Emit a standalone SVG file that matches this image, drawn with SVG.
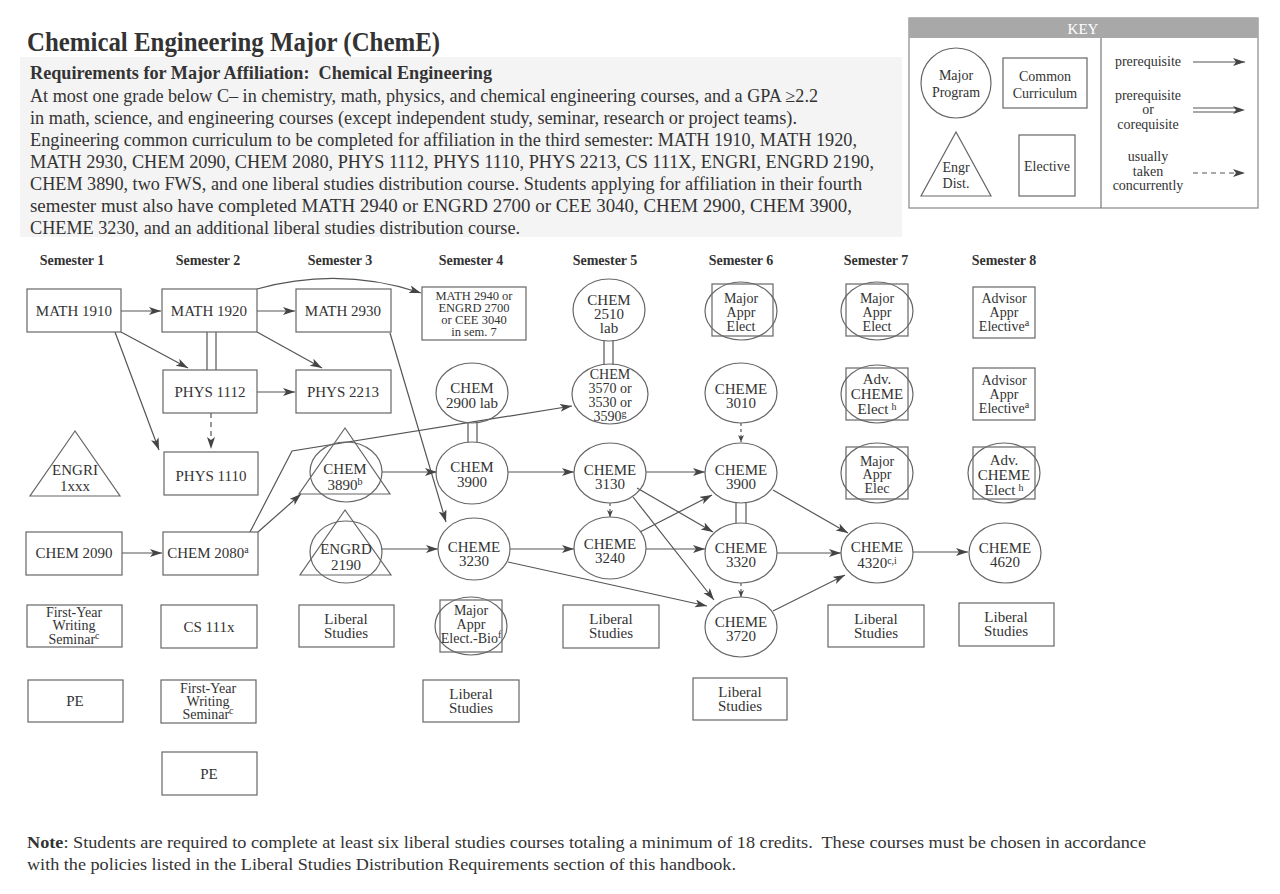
<svg xmlns="http://www.w3.org/2000/svg" width="1280" height="894" viewBox="0 0 1280 894">
<defs>
<marker id="arr" markerUnits="userSpaceOnUse" markerWidth="13" markerHeight="9" refX="12" refY="4" orient="auto">
<path d="M0,0 L12,4 L0,8 L3,4 z" fill="#444"/>
</marker>
<marker id="arrs" markerUnits="userSpaceOnUse" markerWidth="8" markerHeight="6" refX="7" refY="3" orient="auto">
<path d="M0,0 L7,3 L0,6 L2,3 z" fill="#444"/>
</marker>
<style>
text{font-family:"Liberation Serif","Times New Roman",serif;fill:#333}
.n{font-size:15px;text-anchor:middle}
.s{font-size:14px;text-anchor:middle}
.t{font-size:12.5px;text-anchor:middle}
.sup{font-size:10px}
.box{fill:#fff;stroke:#666;stroke-width:1.2}
.ov{fill:none;stroke:#666;stroke-width:1.2}
.c line,.c path,.c polyline{stroke:#555;stroke-width:1.2;fill:none}
.a{marker-end:url(#arr)}
.d{stroke-dasharray:5,4}
.sem{font-size:14px;font-weight:bold;text-anchor:middle}
.body{font-size:18px}
</style>
</defs>
<rect width="1280" height="894" fill="#fff"/>

<!-- Header -->
<g id="header">
<text x="27" y="51" font-size="28" font-weight="bold" textLength="413" lengthAdjust="spacingAndGlyphs">Chemical Engineering Major (ChemE)</text>
<rect x="20" y="57" width="882" height="180" fill="#f4f4f4"/>
<text x="30" y="79" font-size="19" font-weight="bold" textLength="462" lengthAdjust="spacingAndGlyphs" xml:space="preserve">Requirements for Major Affiliation:  Chemical Engineering</text>
<text class="body" x="30" y="102" textLength="788" lengthAdjust="spacingAndGlyphs">At most one grade below C– in chemistry, math, physics, and chemical engineering courses, and a GPA ≥2.2</text>
<text class="body" x="30" y="124" textLength="767" lengthAdjust="spacingAndGlyphs">in math, science, and engineering courses (except independent study, seminar, research or project teams).</text>
<text class="body" x="30" y="146" textLength="827" lengthAdjust="spacingAndGlyphs">Engineering common curriculum to be completed for affiliation in the third semester: MATH 1910, MATH 1920,</text>
<text class="body" x="30" y="168" textLength="844" lengthAdjust="spacingAndGlyphs">MATH 2930, CHEM 2090, CHEM 2080, PHYS 1112, PHYS 1110, PHYS 2213, CS 111X, ENGRI, ENGRD 2190,</text>
<text class="body" x="30" y="190" textLength="832" lengthAdjust="spacingAndGlyphs">CHEM 3890, two FWS, and one liberal studies distribution course. Students applying for affiliation in their fourth</text>
<text class="body" x="30" y="212" textLength="822" lengthAdjust="spacingAndGlyphs">semester must also have completed MATH 2940 or ENGRD 2700 or CEE 3040, CHEM 2900, CHEM 3900,</text>
<text class="body" x="30" y="234" textLength="490" lengthAdjust="spacingAndGlyphs">CHEME 3230, and an additional liberal studies distribution course.</text>
</g>

<!-- Key -->
<g id="key">
<rect x="909" y="18" width="349" height="190" fill="#fff" stroke="#888" stroke-width="1.2"/>
<rect x="909" y="18" width="349" height="20" fill="#a8a8a8"/>
<text x="1083" y="34" font-size="15" text-anchor="middle" style="fill:#fff">KEY</text>
<line x1="1101" y1="38" x2="1101" y2="208" stroke="#777" stroke-width="1.2"/>
<circle cx="956" cy="83" r="35" class="ov"/>
<text class="s" x="956" y="80">Major</text><text class="s" x="956" y="97">Program</text>
<rect x="1003" y="58" width="84" height="50" class="box"/>
<text class="s" x="1045" y="81">Common</text><text class="s" x="1045" y="98">Curriculum</text>
<polygon points="956,132 921,196 991,196" class="ov"/>
<text class="s" x="956" y="172">Engr</text><text class="s" x="956" y="188">Dist.</text>
<rect x="1019" y="135" width="56" height="61" class="box"/>
<text class="s" x="1047" y="171">Elective</text>
<text class="s" x="1148" y="66">prerequisite</text>
<text class="s" x="1148" y="100">prerequisite</text><text class="s" x="1148" y="114">or</text><text class="s" x="1148" y="129">corequisite</text>
<text class="s" x="1148" y="161">usually</text><text class="s" x="1148" y="176">taken</text><text class="s" x="1148" y="190">concurrently</text>
<g class="c">
<line x1="1193" y1="62" x2="1245" y2="62" class="a"/>
<line x1="1193" y1="108" x2="1236" y2="108"/>
<line x1="1193" y1="112" x2="1236" y2="112"/>
<line x1="1230" y1="110" x2="1245" y2="110" class="a" style="stroke:none"/>
<line x1="1193" y1="173" x2="1245" y2="173" class="a d"/>
</g>
</g>

<!-- Semester labels -->
<g id="semesters">
<text class="sem" x="72" y="265">Semester 1</text>
<text class="sem" x="208" y="265">Semester 2</text>
<text class="sem" x="340" y="265">Semester 3</text>
<text class="sem" x="471" y="265">Semester 4</text>
<text class="sem" x="605" y="265">Semester 5</text>
<text class="sem" x="741" y="265">Semester 6</text>
<text class="sem" x="876" y="265">Semester 7</text>
<text class="sem" x="1004" y="265">Semester 8</text>
</g>

<!-- Connectors -->
<g id="connectors" class="c">
<line x1="121" y1="311" x2="161" y2="311" class="a"/>
<line x1="257" y1="311" x2="295" y2="311" class="a"/>
<path d="M257,289 Q340,266 421,293" class="a"/>
<line x1="121" y1="332" x2="188" y2="368" class="a"/>
<line x1="115" y1="332" x2="159" y2="450" class="a"/>
<line x1="257" y1="332" x2="322" y2="368" class="a"/>
<line x1="207" y1="332" x2="207" y2="370"/>
<line x1="216" y1="332" x2="216" y2="370"/>
<line x1="257" y1="392" x2="295" y2="392" class="a"/>
<line x1="211" y1="413" x2="211" y2="449" class="a d"/>
<line x1="390" y1="333" x2="446" y2="522" class="a"/>
<polyline points="250,532 292,451 572,406" class="a"/>
<line x1="258" y1="532" x2="301" y2="494" class="a"/>
<line x1="382" y1="472" x2="437" y2="472" class="a"/>
<line x1="122" y1="553" x2="162" y2="553" class="a"/>
<line x1="382" y1="549" x2="438" y2="549" class="a"/>
<line x1="468" y1="423" x2="468" y2="442"/>
<line x1="477" y1="423" x2="477" y2="442"/>
<line x1="604" y1="340" x2="604" y2="365"/>
<line x1="613" y1="340" x2="613" y2="365"/>
<line x1="508" y1="472" x2="574" y2="472" class="a"/>
<line x1="510" y1="549" x2="574" y2="549" class="a"/>
<line x1="508" y1="562" x2="707" y2="606" class="a"/>
<line x1="610" y1="503" x2="610" y2="517" style="marker-end:url(#arrs);stroke-dasharray:3,3"/>
<line x1="646" y1="472" x2="705" y2="472" class="a"/>
<line x1="637" y1="488" x2="713" y2="532" class="a"/>
<line x1="633" y1="497" x2="714" y2="600" class="a"/>
<line x1="640" y1="532" x2="712" y2="495" class="a"/>
<line x1="646" y1="549" x2="705" y2="549" class="a"/>
<line x1="741" y1="423" x2="741" y2="442" style="marker-end:url(#arrs);stroke-dasharray:3,3"/>
<line x1="736" y1="503" x2="736" y2="523"/>
<line x1="746" y1="503" x2="746" y2="523"/>
<line x1="741" y1="583" x2="741" y2="597" style="marker-end:url(#arrs);stroke-dasharray:3,3"/>
<line x1="773" y1="490" x2="848" y2="533" class="a"/>
<line x1="777" y1="553" x2="841" y2="553" class="a"/>
<line x1="773" y1="611" x2="845" y2="575" class="a"/>
<line x1="913" y1="552" x2="968" y2="552" class="a"/>
</g>

<!-- Semester 1 -->
<g id="math1910"><rect x="27" y="289" width="94" height="43" class="box"/><text class="n" x="74" y="316">MATH 1910</text></g>
<g id="engri"><polygon points="75,431 30,496 120,496" class="ov"/><text class="n" x="75" y="475">ENGRI</text><text class="n" x="75" y="491">1xxx</text></g>
<g id="chem2090"><rect x="26" y="532" width="96" height="43" class="box"/><text class="n" x="74" y="558">CHEM 2090</text></g>
<g id="fws1"><rect x="27" y="605" width="95" height="42" class="box"/><text class="s" x="74" y="617">First-Year</text><text class="s" x="74" y="630">Writing</text><text class="s" x="74" y="644">Seminar<tspan class="sup" dy="-5">c</tspan></text></g>
<g id="pe1"><rect x="28" y="680" width="95" height="42" class="box"/><text class="n" x="75" y="706">PE</text></g>

<!-- Semester 2 -->
<g id="math1920"><rect x="162" y="289" width="95" height="43" class="box"/><text class="n" x="209" y="316">MATH 1920</text></g>
<g id="phys1112"><rect x="163" y="370" width="94" height="43" class="box"/><text class="n" x="210" y="397">PHYS 1112</text></g>
<g id="phys1110"><rect x="164" y="452" width="94" height="43" class="box"/><text class="n" x="211" y="481">PHYS 1110</text></g>
<g id="chem2080"><rect x="163" y="532" width="95" height="43" class="box"/><text class="n" x="208" y="558">CHEM 2080<tspan class="sup" dy="-5">a</tspan></text></g>
<g id="cs111x"><rect x="161" y="605" width="96" height="43" class="box"/><text class="n" x="209" y="632">CS 111x</text></g>
<g id="fws2"><rect x="161" y="680" width="95" height="43" class="box"/><text class="s" x="208" y="693">First-Year</text><text class="s" x="208" y="706">Writing</text><text class="s" x="208" y="719">Seminar<tspan class="sup" dy="-5">c</tspan></text></g>
<g id="pe2"><rect x="162" y="752" width="95" height="43" class="box"/><text class="n" x="209" y="779">PE</text></g>

<!-- Semester 3 -->
<g id="math2930"><rect x="296" y="289" width="95" height="43" class="box"/><text class="n" x="343" y="316">MATH 2930</text></g>
<g id="phys2213"><rect x="296" y="370" width="95" height="43" class="box"/><text class="n" x="343" y="397">PHYS 2213</text></g>
<g id="chem3890"><polygon points="345,428 299,494 390,494" class="ov"/><ellipse cx="346" cy="472" rx="36" ry="30" class="ov"/><text class="n" x="345" y="474">CHEM</text><text class="n" x="345" y="490">3890<tspan class="sup" dy="-5">b</tspan></text></g>
<g id="engrd2190"><polygon points="345,510 300,575 391,575" class="ov"/><ellipse cx="346" cy="552" rx="36" ry="31" class="ov"/><text class="n" x="346" y="554">ENGRD</text><text class="n" x="346" y="570">2190</text></g>
<g id="libstud3"><rect x="299" y="605" width="95" height="42" class="box"/><text class="n" x="346" y="624">Liberal</text><text class="n" x="346" y="638">Studies</text></g>

<!-- Semester 4 -->
<g id="math2940"><rect x="422" y="287" width="104" height="53" class="box"/><text class="t" x="474" y="300">MATH 2940 or</text><text class="t" x="474" y="312">ENGRD 2700</text><text class="t" x="474" y="324">or CEE 3040</text><text class="t" x="474" y="336">in sem. 7</text></g>
<g id="chem2900lab"><ellipse cx="472" cy="393" rx="36" ry="30" class="ov"/><text class="n" x="472" y="393">CHEM</text><text class="n" x="472" y="408">2900 lab</text></g>
<g id="chem3900"><ellipse cx="472" cy="473" rx="36" ry="31" class="ov"/><text class="n" x="472" y="472">CHEM</text><text class="n" x="472" y="487">3900</text></g>
<g id="cheme3230"><ellipse cx="474" cy="549" rx="36" ry="31" class="ov"/><text class="n" x="474" y="552">CHEME</text><text class="n" x="474" y="566">3230</text></g>
<g id="majorbio"><rect x="440" y="600" width="62" height="52" class="box"/><ellipse cx="471" cy="626" rx="36" ry="29" class="ov"/><text class="s" x="471" y="615" font-size="13">Major</text><text class="s" x="471" y="629" font-size="13">Appr</text><text class="s" x="471" y="643" font-size="13">Elect.-Bio<tspan class="sup" dy="-5">f</tspan></text></g>
<g id="libstud4"><rect x="423" y="680" width="96" height="42" class="box"/><text class="n" x="471" y="699">Liberal</text><text class="n" x="471" y="713">Studies</text></g>

<!-- Semester 5 -->
<g id="chem2510"><ellipse cx="609" cy="310" rx="36" ry="31" class="ov"/><text class="n" x="609" y="305">CHEM</text><text class="n" x="609" y="319">2510</text><text class="n" x="609" y="333">lab</text></g>
<g id="chem3570"><ellipse cx="610" cy="394" rx="38" ry="30" class="ov"/><text class="s" x="610" y="379">CHEM</text><text class="s" x="610" y="393">3570 or</text><text class="s" x="610" y="407">3530 or</text><text class="s" x="610" y="421">3590<tspan class="sup" dy="-4">g</tspan></text></g>
<g id="cheme3130"><ellipse cx="610" cy="473" rx="36" ry="30" class="ov"/><text class="n" x="610" y="475">CHEME</text><text class="n" x="610" y="489">3130</text></g>
<g id="cheme3240"><ellipse cx="610" cy="548" rx="36" ry="31" class="ov"/><text class="n" x="610" y="549">CHEME</text><text class="n" x="610" y="563">3240</text></g>
<g id="libstud5"><rect x="563" y="605" width="96" height="43" class="box"/><text class="n" x="611" y="624">Liberal</text><text class="n" x="611" y="638">Studies</text></g>

<!-- Semester 6 -->
<g id="majorappr6"><rect x="712" y="284" width="61" height="52" class="box"/><ellipse cx="741" cy="311" rx="36" ry="29" class="ov"/><text class="s" x="741" y="303">Major</text><text class="s" x="741" y="317">Appr</text><text class="s" x="741" y="331">Elect</text></g>
<g id="cheme3010"><ellipse cx="741" cy="393" rx="36" ry="30" class="ov"/><text class="n" x="741" y="394">CHEME</text><text class="n" x="741" y="408">3010</text></g>
<g id="cheme3900"><ellipse cx="741" cy="473" rx="36" ry="30" class="ov"/><text class="n" x="741" y="475">CHEME</text><text class="n" x="741" y="489">3900</text></g>
<g id="cheme3320"><ellipse cx="741" cy="553" rx="36" ry="30" class="ov"/><text class="n" x="741" y="553">CHEME</text><text class="n" x="741" y="567">3320</text></g>
<g id="cheme3720"><ellipse cx="741" cy="627" rx="36" ry="30" class="ov"/><text class="n" x="741" y="627">CHEME</text><text class="n" x="741" y="641">3720</text></g>
<g id="libstud6"><rect x="693" y="678" width="94" height="42" class="box"/><text class="n" x="740" y="697">Liberal</text><text class="n" x="740" y="711">Studies</text></g>

<!-- Semester 7 -->
<g id="majorappr7"><rect x="846" y="284" width="62" height="52" class="box"/><ellipse cx="877" cy="311" rx="36" ry="29" class="ov"/><text class="s" x="877" y="303">Major</text><text class="s" x="877" y="317">Appr</text><text class="s" x="877" y="331">Elect</text></g>
<g id="advcheme7"><rect x="846" y="368" width="62" height="52" class="box"/><ellipse cx="877" cy="394" rx="36" ry="29" class="ov"/><text class="n" x="877" y="384">Adv.</text><text class="n" x="877" y="399">CHEME</text><text class="n" x="877" y="414">Elect<tspan class="sup" dx="3" dy="-4">h</tspan></text></g>
<g id="majorelec7"><rect x="846" y="447" width="62" height="52" class="box"/><ellipse cx="877" cy="473" rx="36" ry="30" class="ov"/><text class="s" x="877" y="466">Major</text><text class="s" x="877" y="479">Appr</text><text class="s" x="877" y="493">Elec</text></g>
<g id="cheme4320"><ellipse cx="877" cy="553" rx="36" ry="30" class="ov"/><text class="n" x="877" y="552">CHEME</text><text class="n" x="877" y="568">4320<tspan class="sup" dy="-4">c,i</tspan></text></g>
<g id="libstud7"><rect x="828" y="605" width="96" height="42" class="box"/><text class="n" x="876" y="624">Liberal</text><text class="n" x="876" y="638">Studies</text></g>

<!-- Semester 8 -->
<g id="advisor1"><rect x="973" y="287" width="62" height="51" class="box"/><text class="s" x="1004" y="303">Advisor</text><text class="s" x="1004" y="317">Appr</text><text class="s" x="1004" y="331">Elective<tspan class="sup" dy="-5">a</tspan></text></g>
<g id="advisor2"><rect x="973" y="368" width="62" height="52" class="box"/><text class="s" x="1004" y="385">Advisor</text><text class="s" x="1004" y="399">Appr</text><text class="s" x="1004" y="413">Elective<tspan class="sup" dy="-5">a</tspan></text></g>
<g id="advcheme8"><rect x="973" y="447" width="62" height="52" class="box"/><ellipse cx="1004" cy="473" rx="36" ry="30" class="ov"/><text class="n" x="1004" y="465">Adv.</text><text class="n" x="1004" y="480">CHEME</text><text class="n" x="1004" y="495">Elect<tspan class="sup" dx="3" dy="-4">h</tspan></text></g>
<g id="cheme4620"><ellipse cx="1005" cy="553" rx="36" ry="30" class="ov"/><text class="n" x="1005" y="553">CHEME</text><text class="n" x="1005" y="567">4620</text></g>
<g id="libstud8"><rect x="959" y="603" width="95" height="43" class="box"/><text class="n" x="1006" y="622">Liberal</text><text class="n" x="1006" y="636">Studies</text></g>

<!-- Note -->
<g id="note">
<text x="27" y="848" font-size="17" textLength="1119" lengthAdjust="spacingAndGlyphs" xml:space="preserve"><tspan font-weight="bold">Note</tspan>: Students are required to complete at least six liberal studies courses totaling a minimum of 18 credits.  These courses must be chosen in accordance</text>
<text x="27" y="870" font-size="17" textLength="709" lengthAdjust="spacingAndGlyphs">with the policies listed in the Liberal Studies Distribution Requirements section of this handbook.</text>
</g>
</svg>
